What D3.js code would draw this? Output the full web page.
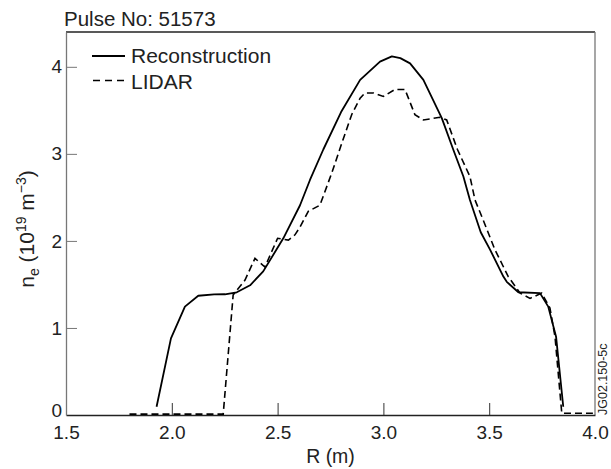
<!DOCTYPE html>
<html><head><meta charset="utf-8">
<script src="https://cdn.jsdelivr.net/npm/d3@7"></script>
<style>body{margin:0;background:#fff;} text{font-family:"Liberation Sans",Arial,sans-serif;fill:#222;}</style>
</head><body><svg id="c" width="611" height="469"></svg>
<script>
const reconR = [1.928,1.996,2.062,2.125,2.20,2.251,2.307,2.37,2.432,2.527,2.606,2.653,2.716,2.80,2.89,2.984,3.04,3.08,3.126,3.189,3.276,3.33,3.378,3.409,3.46,3.504,3.567,3.583,3.638,3.74,3.779,3.816,3.85];
const reconN = [0.095,0.88,1.245,1.37,1.385,1.387,1.41,1.49,1.65,2.03,2.41,2.70,3.05,3.48,3.85,4.06,4.12,4.10,4.04,3.85,3.41,3.05,2.74,2.47,2.10,1.90,1.59,1.53,1.41,1.40,1.245,0.90,0.095];
const lidarR = [1.80,2.243,2.29,2.346,2.393,2.44,2.50,2.551,2.582,2.606,2.645,2.70,2.756,2.803,2.85,2.89,2.913,2.953,3.0,3.055,3.102,3.149,3.189,3.267,3.299,3.35,3.409,3.433,3.47,3.527,3.59,3.646,3.693,3.748,3.787,3.811,3.843,3.99];
const lidarN = [0.01,0.01,1.38,1.55,1.80,1.70,2.03,2.01,2.07,2.16,2.34,2.41,2.78,3.12,3.45,3.64,3.70,3.70,3.66,3.74,3.74,3.45,3.39,3.42,3.39,3.05,2.74,2.47,2.25,1.90,1.59,1.40,1.34,1.40,1.23,0.90,0.02,0.02];
const xTicks = [1.5,2.0,2.5,3.0,3.5,4.0];
const yTicks = [0,1,2,3,4];
const title = "Pulse No: 51573";
const seriesNames = ["Reconstruction","LIDAR"];

const svg = d3.select("#c");
const L=66,R=595,T=32,B=415;
const x = d3.scaleLinear().domain([1.5,4.0]).range([L,R]);
const y = d3.scaleLinear().domain([0,4.4]).range([B,T]);

// frame
svg.append("line").attr("x1",L).attr("x2",R).attr("y1",T).attr("y2",T).attr("stroke","#222").attr("stroke-width",1.3);
svg.append("line").attr("x1",R).attr("x2",R).attr("y1",T).attr("y2",B).attr("stroke","#777").attr("stroke-width",1.3);

// x axis
const xa = svg.append("g").attr("transform",`translate(0,${B})`)
  .call(d3.axisBottom(x).tickValues(xTicks).tickFormat(d3.format(".1f")).tickSizeInner(-12).tickSizeOuter(0).tickPadding(7));
xa.select(".domain").attr("stroke","#222").attr("stroke-width",1.5);
xa.selectAll(".tick line").attr("stroke","#333");
xa.selectAll(".tick text").attr("font-size",19).attr("dy","0.9em").style("font-family","Liberation Sans, Arial, sans-serif").attr("fill","#222");
xa.selectAll(".tick").filter(d=>d===1.5||d===4.0).select("line").remove();

// y axis
const ya = svg.append("g").attr("transform",`translate(${L},0)`)
  .call(d3.axisLeft(y).tickValues(yTicks).tickFormat(d3.format("d")).tickSizeInner(-11).tickSizeOuter(0).tickPadding(4));
ya.select(".domain").attr("stroke","#777").attr("stroke-width",1.3);
ya.selectAll(".tick line").attr("stroke","#777");
ya.selectAll(".tick text").attr("font-size",19).style("font-family","Liberation Sans, Arial, sans-serif").attr("fill","#222");
ya.selectAll(".tick").filter(d=>d===0).select("line").remove();
ya.selectAll(".tick").filter(d=>d===0).select("text").attr("y",-5);

// lines
const line = d3.line().x(d=>x(d[0])).y(d=>y(d[1]));
svg.append("path").datum(reconR.map((r,i)=>[r,reconN[i]])).attr("d",line)
  .attr("fill","none").attr("stroke","#000").attr("stroke-width",1.8).attr("stroke-linejoin","round");
svg.append("path").datum(lidarR.map((r,i)=>[r,lidarN[i]])).attr("d",line)
  .attr("fill","none").attr("stroke","#000").attr("stroke-width",1.6).attr("stroke-dasharray","7,4");

// title
svg.append("text").attr("x",64).attr("y",26).attr("font-size",20.5).text(title);

// legend
svg.append("line").attr("x1",92).attr("x2",125).attr("y1",56).attr("y2",56).attr("stroke","#000").attr("stroke-width",1.8);
svg.append("text").attr("x",131).attr("y",63).attr("font-size",21).text(seriesNames[0]);
svg.append("line").attr("x1",93).attr("x2",125).attr("y1",80.5).attr("y2",80.5).attr("stroke","#000").attr("stroke-width",1.6).attr("stroke-dasharray","7,5");
svg.append("text").attr("x",131).attr("y",89).attr("font-size",21).text(seriesNames[1]);

// axis labels
svg.append("text").attr("x",(L+R)/2).attr("y",463).attr("text-anchor","middle").attr("font-size",19.5).text("R (m)");
const yl = svg.append("text").attr("transform","translate(34,229) rotate(-90)").attr("text-anchor","middle").attr("font-size",21);
yl.append("tspan").text("n");
yl.append("tspan").attr("font-size",14).attr("dy",5).text("e");
yl.append("tspan").attr("dy",-5).text(" (10");
yl.append("tspan").attr("font-size",14).attr("dy",-8).text("19");
yl.append("tspan").attr("dy",8).text(" m");
yl.append("tspan").attr("font-size",14).attr("dy",-8).text("\u22123");
yl.append("tspan").attr("dy",8).text(")");

// watermark
svg.append("text").attr("transform","translate(607,415) rotate(-90)").attr("font-size",12.5).text("JG02.150-5c");
</script></body></html>
